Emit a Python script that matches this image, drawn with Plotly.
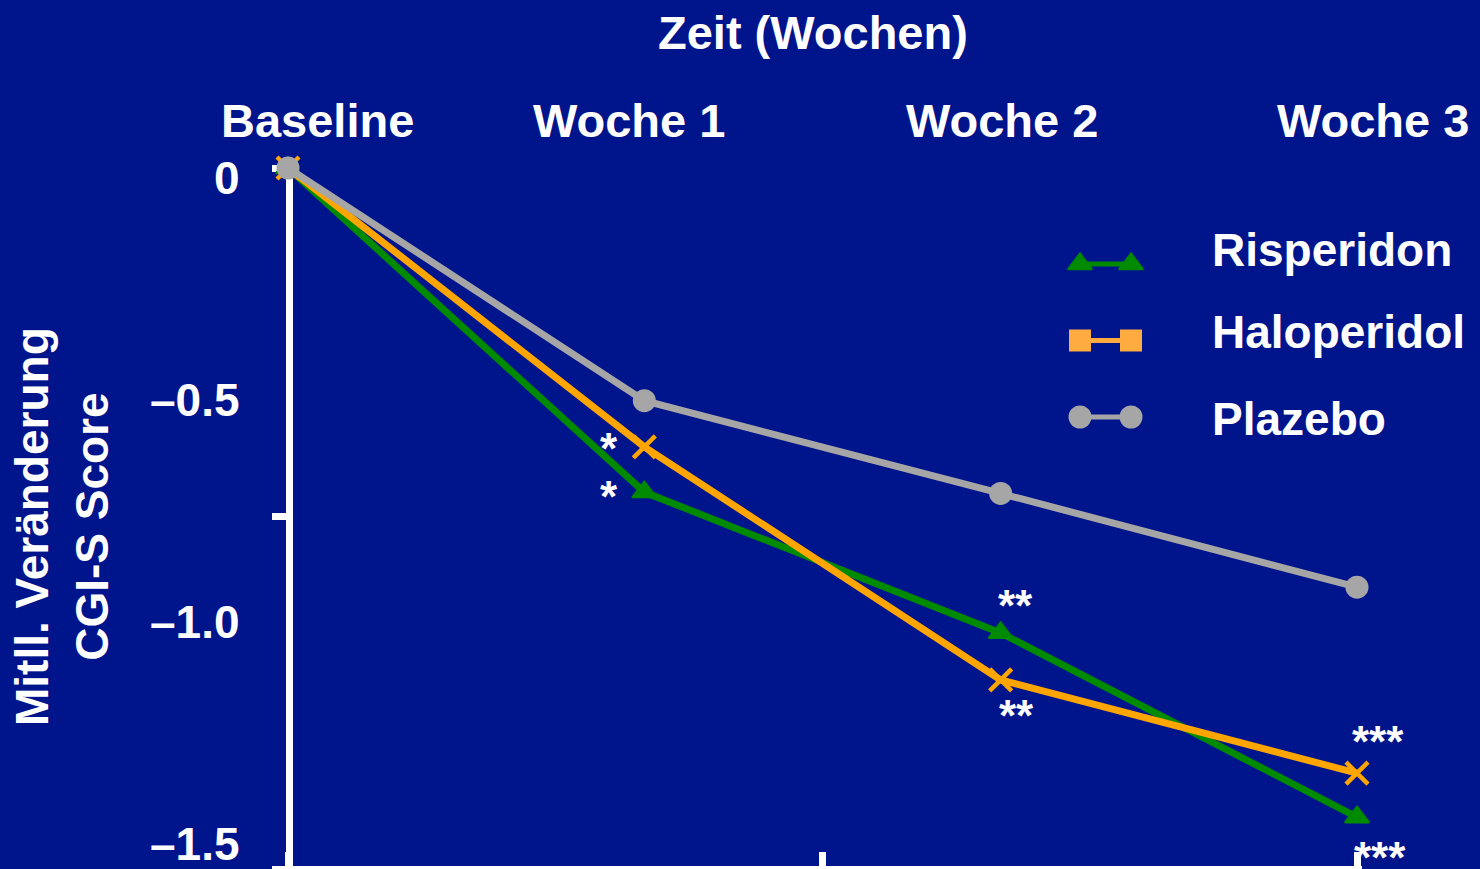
import plotly.graph_objects as go

# ---------------- data ----------------
categories = ["Baseline", "Woche 1", "Woche 2", "Woche 3"]
series_names = ["Risperidon", "Haloperidol", "Plazebo"]
risperidon = [0.0, -0.730, -1.047, -1.462]
haloperidol = [0.0, -0.628, -1.153, -1.363]
plazebo = [0.0, -0.524, -0.733, -0.944]
sig_risperidon = ["", "*", "**", "***"]
sig_haloperidol = ["", "*", "**", "***"]
y_tick_values = [0, -0.5, -1.0, -1.5]
y_tick_labels = ["0", "\u20130.5", "\u20131.0", "\u20131.5"]
y_axis_marks = [0, -0.786]
x_axis_marks = [0, 1.5, 3]
x_title = "Zeit (Wochen)"
y_title = "Mitll. Veränderung<br>CGI-S Score"

# ---------------- style ----------------
W, H = 1480, 869
BG = "#00148C"
GREEN = "#008A00"
ORANGE = "#FFA500"
ORANGE_LEG = "#FFAB40"
GREY = "#A6A6A6"
WHITE = "#FFFFFF"
FONT = "Liberation Sans, Arial, sans-serif"
FS = 46


def px(x):
    return x / W


def py(y):
    return 1 - y / H


X0, X3 = 288, 1357
XUNIT = (X3 - X0) / 3
x_range = [-(X0 - 272) / XUNIT, 3 + (1362 - X3) / XUNIT]
Y0, YUNIT, YBOT = 168, 444, 866
y_range = [-(YBOT - Y0) / YUNIT, 0]

xs = list(range(len(categories)))

fig = go.Figure()

specs = [
    (risperidon, GREEN, dict(symbol="triangle-up", size=21, color=GREEN, line=dict(color=GREEN, width=2))),
    (haloperidol, ORANGE, dict(symbol="x-thin", size=22, color=ORANGE, line=dict(color=ORANGE, width=4.5))),
    (plazebo, GREY, dict(symbol="circle", size=23, color=GREY, line=dict(width=0))),
]
for name, (vals, col, mk) in zip(series_names, specs):
    fig.add_trace(go.Scatter(
        x=xs, y=vals, name=name, mode="lines+markers",
        line=dict(color=col, width=7), marker=mk, cliponaxis=False,
        showlegend=False, text=categories,
        hovertemplate="%{text}: %{y:.2f}<extra>" + name + "</extra>",
    ))

# custom legend drawn on a hidden auxiliary axis pair
legend_markers = [
    dict(symbol="triangle-up", size=21, color=GREEN, line=dict(color=GREEN, width=2)),
    dict(symbol="square", size=22, color=ORANGE_LEG),
    dict(symbol="circle", size=23, color=GREY),
]
legend_lines = [GREEN, ORANGE_LEG, GREY]
for i, name in enumerate(series_names):
    fig.add_trace(go.Scatter(
        x=[0, 1], y=[i, i], mode="lines+markers", xaxis="x3", yaxis="y3",
        line=dict(color=legend_lines[i], width=5), marker=legend_markers[i],
        cliponaxis=False, showlegend=False, hoverinfo="skip",
    ))


def txt(text, size=FS, **kw):
    d = dict(text=text, showarrow=False, xanchor="center", yanchor="middle",
             font=dict(size=size, color=WHITE, family=FONT, weight=700))
    d.update(kw)
    return d


annotations = []
# title
annotations.append(txt(x_title, FS + 1, x=px(813), y=py(32), xref="paper", yref="paper"))
# category labels (top)
cat_shift = [29, -15, 1, 16]
for i, c in enumerate(categories):
    annotations.append(txt(c, FS + 1, x=i, xref="x", xshift=cat_shift[i], y=py(120), yref="paper"))
# y title
annotations.append(txt(y_title, FS, x=px(62), y=py(527), xref="paper", yref="paper", textangle=-90))
# y tick labels
for v, lab in zip(y_tick_values, y_tick_labels):
    annotations.append(txt(lab, FS, x=px(242), xref="paper", xanchor="right",
                           y=v, yref="y", yshift=-10))
# legend texts
for name, ty in zip(series_names, [250, 332, 419]):
    annotations.append(txt(name, FS, x=px(1210), y=py(ty), xref="paper", yref="paper", xanchor="left"))
# significance markers
ASTER_CORR = 6
sig_shift_r = [(0, 0), (-35, 2), (15, 33), (23, -34)]
sig_shift_h = [(0, 0), (-35, 4), (16, -30), (21, 38)]
for vals, sigs, shifts in [(risperidon, sig_risperidon, sig_shift_r),
                           (haloperidol, sig_haloperidol, sig_shift_h)]:
    for i, s in enumerate(sigs):
        if s:
            annotations.append(txt(s, 44, x=xs[i], y=vals[i], xref="x", yref="y",
                                   xshift=shifts[i][0], yshift=shifts[i][1] - ASTER_CORR))

fig.update_layout(
    width=W, height=H, autosize=False,
    margin=dict(l=0, r=0, t=0, b=0, pad=0),
    paper_bgcolor=BG, plot_bgcolor=BG,
    showlegend=False,
    annotations=annotations,
    xaxis=dict(domain=[px(272), px(1362)], range=x_range, showline=True, linecolor=WHITE, linewidth=7,
               ticks="inside", tickvals=x_axis_marks, ticklen=14, tickwidth=7, tickcolor=WHITE,
               showticklabels=False, showgrid=False, zeroline=False, layer="below traces",
               fixedrange=True),
    yaxis=dict(domain=[py(YBOT), py(Y0)], range=y_range, anchor="free", position=px(289),
               showline=True, linecolor=WHITE, linewidth=7,
               ticks="outside", tickvals=y_axis_marks, ticklen=14, tickwidth=7, tickcolor=WHITE,
               showticklabels=False, showgrid=False, zeroline=False, layer="below traces",
               fixedrange=True),
    xaxis3=dict(domain=[px(1080 - 10.2), px(1131 + 10.2)], range=[-0.2, 1.2], visible=False,
                anchor="y3", fixedrange=True),
    yaxis3=dict(domain=[py(417 + 0.3 * 76.5), py(264 - 0.3 * 76.5)], range=[2.3, -0.3], visible=False,
                anchor="x3", fixedrange=True),
)

fig.write_html("out.html")
